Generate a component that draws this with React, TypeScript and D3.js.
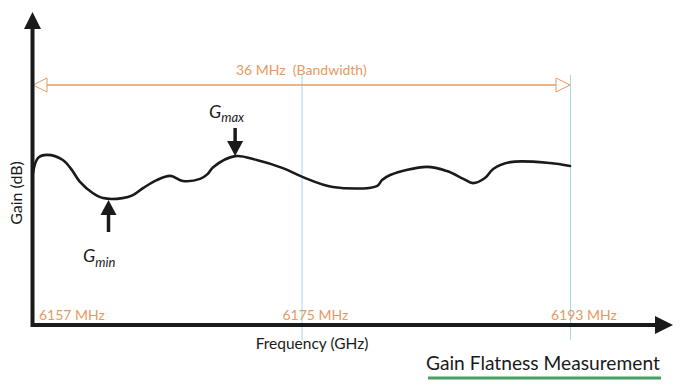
import React from "react";
import * as d3 from "d3";

const freqMHz = [6157.0, 6157.34, 6157.94, 6159.0, 6159.6, 6160.15, 6161.0, 6161.7, 6163.0, 6163.7, 6164.4, 6165.3, 6166.2, 6167.05, 6168.2, 6168.7, 6169.1, 6170.55, 6172.0, 6173.75, 6175.1, 6177.1, 6180.05, 6180.4, 6180.95, 6183.4, 6184.75, 6185.85, 6186.5, 6187.3, 6187.85, 6189.0, 6191.65, 6193.0];
const gainDb = [5.07, 5.57, 5.67, 5.5, 5.17, 4.77, 4.4, 4.23, 4.23, 4.33, 4.57, 4.83, 4.97, 4.8, 4.87, 5.03, 5.27, 5.63, 5.5, 5.23, 4.93, 4.6, 4.63, 4.83, 5.0, 5.27, 5.13, 4.87, 4.73, 4.9, 5.2, 5.43, 5.4, 5.3];
const markerFreqs = [6157, 6175, 6193];
const markerLabels = ["6157 MHz", "6175 MHz", "6193 MHz"];
const bandwidthLabel = "36 MHz  (Bandwidth)";
const gMaxIdx = 17;
const gMinIdx = 8;

export default function App() {
  const W = 685, H = 392;
  const x = d3.scaleLinear().domain([6157, 6193]).range([33, 570]);
  const y = d3.scaleLinear().domain([0, 10]).range([325, 25]);
  const pts: [number, number][] = freqMHz.map((f, i) => [f, gainDb[i]]);
  const line = d3
    .line<[number, number]>()
    .x((d) => x(d[0]))
    .y((d) => y(d[1]))
    .curve(d3.curveCatmullRom.alpha(0.5));
  const orange = "#e59a62";
  const font = "Lato, 'Open Sans', sans-serif";
  const bwY = 85;
  const x0 = x(6157), x1 = x(6193);
  const gmx = x(freqMHz[gMaxIdx]), gmy = y(gainDb[gMaxIdx]);
  const gnx = x(freqMHz[gMinIdx]) - 14, gny = y(gainDb[gMinIdx]) + 2;
  return (
    <svg width={W} height={H} style={{ position: "absolute", left: 0, top: 0 }}>
      <rect width={W} height={H} fill="#fff" />
      {markerFreqs.slice(1).map((f) => (
        <line key={f} x1={x(f) + 0.5} x2={x(f) + 0.5} y1={75} y2={340} stroke="#a6d8e6" strokeWidth={1} />
      ))}
      <line x1={x0} x2={x1} y1={bwY} y2={bwY} stroke={orange} strokeWidth={1.3} />
      <path d={`M${x0},${bwY} L${x0 + 14},${bwY - 7} L${x0 + 14},${bwY + 7} Z`} fill="#fff" stroke={orange} strokeWidth={1} />
      <path d={`M${x1},${bwY} L${x1 - 14},${bwY - 7} L${x1 - 14},${bwY + 7} Z`} fill="#fff" stroke={orange} strokeWidth={1} />
      <text x={236} y={75} fill={orange} fontFamily={font} fontSize={14} style={{ whiteSpace: "pre" }}>{bandwidthLabel}</text>
      <line x1={32.5} x2={32.5} y1={327} y2={26} stroke="#1a1a1a" strokeWidth={4} />
      <path d="M32.5,12 L41,29 L24,29 Z" fill="#1a1a1a" />
      <line x1={31} x2={657} y1={325} y2={325} stroke="#1a1a1a" strokeWidth={4} />
      <path d="M673,325 L655,316 L655,334 Z" fill="#1a1a1a" />
      <path d={line(pts) || ""} fill="none" stroke="#1a1a1a" strokeWidth={2.6} strokeLinejoin="round" strokeLinecap="round" />
      <line x1={gmx} x2={gmx} y1={128} y2={gmy - 12} stroke="#1a1a1a" strokeWidth={3.5} />
      <path d={`M${gmx},${gmy} L${gmx - 8},${gmy - 15} L${gmx + 8},${gmy - 15} Z`} fill="#1a1a1a" />
      <text x={209} y={118} fontFamily={font} fontStyle="italic" fontSize={18} fill="#1a1a1a">
        G<tspan fontSize={13} dy={4}>max</tspan>
      </text>
      <line x1={gnx} x2={gnx} y1={232} y2={gny + 12} stroke="#1a1a1a" strokeWidth={3.5} />
      <path d={`M${gnx},${gny} L${gnx - 8},${gny + 15} L${gnx + 8},${gny + 15} Z`} fill="#1a1a1a" />
      <text x={83} y={262} fontFamily={font} fontStyle="italic" fontSize={18} fill="#1a1a1a">
        G<tspan fontSize={13} dy={5}>min</tspan>
      </text>
      {markerFreqs.map((f, i) => (
        <text key={f} x={i === 0 ? x(f) + 6 : x(f) - 19} y={320} fill={orange} fontFamily={font} fontSize={14}>
          {markerLabels[i]}
        </text>
      ))}
      <text x={312} y={349} textAnchor="middle" fontFamily={font} fontSize={15.5} fill="#1a1a1a">Frequency (GHz)</text>
      <text transform="translate(22,193) rotate(-90)" textAnchor="middle" fontFamily={font} fontSize={16} fill="#1a1a1a">Gain (dB)</text>
      <text x={426} y={370} fontFamily={font} fontSize={19.2} fill="#1a1a1a">Gain Flatness Measurement</text>
      <line x1={428} x2={661} y1={378} y2={378} stroke="#4aa063" strokeWidth={3} />
    </svg>
  );
}
